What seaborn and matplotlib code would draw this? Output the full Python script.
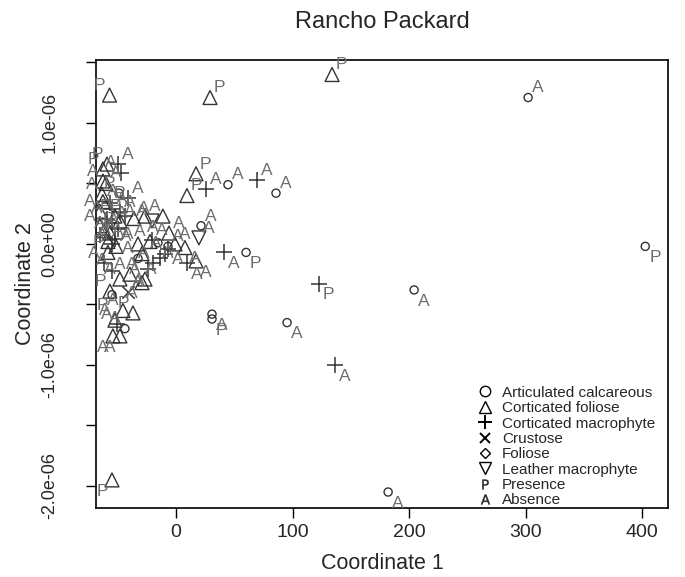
import numpy as np
import pandas as pd
import seaborn as sns
import matplotlib.pyplot as plt
from matplotlib.lines import Line2D

# ordination scores (Coordinate 2 in units of 1e-06)
kind = ['cf', 'cf', 'cf', 'ac', 'ac', 'ac', 'cm', 'cm', 'ac', 'ac',
        'cf', 'ac', 'ac', 'cm', 'ac', 'cm', 'ac', 'ac', 'cf', 'cf',
        'cm', 'ac', 'lm', 'cf', 'cf', 'cm',
        'cf', 'cf', 'cm', 'cm', 'cf', 'cf', 'ac', 'cm', 'cf', 'cf',
        'cm', 'cf', 'cm', 'cm', 'cf', 'cm', 'cf', 'cm', 'cf', 'cm',
        'cf', 'cm', 'cm', 'cf', 'cm', 'cf', 'cm', 'cf', 'cm', 'cf',
        'cm', 'cf', 'cf', 'ac', 'cr', 'cf', 'cf', 'cf', 'ac', 'cf',
        'cf', 'cm',
        'cf', 'cf', 'cf', 'lm', 'cf', 'cf', 'cm', 'ac', 'ac', 'cf',
        'ac', 'cf', 'cm', 'cm', 'cm', 'cm', 'cm', 'cf', 'cf', 'cf', 'cf']
label = ['P', 'P', 'P', 'A', 'P', 'A', 'A', 'P', 'A', 'A',
         'P', 'A', 'P', 'A', 'P', 'A', 'A', 'A', 'P', 'P',
         'A', 'A', 'A', 'A', 'A', 'A',
         'P', 'P', 'A', 'A', 'A', 'A', 'P', 'A', 'A', 'A',
         'P', 'A', 'A', 'A', 'P', 'A', 'A', 'A', 'A', 'P',
         'A', 'A', 'A', 'A', 'P', 'A', 'A', 'A', 'A', 'P',
         'A', 'A', 'P', 'P', 'A', 'A', 'P', 'A', 'A', 'A',
         'A', 'A',
         'A', 'A', 'A', 'A', 'A', 'A', 'A', 'A', 'A', 'A',
         'A', 'A', 'A', 'A', 'A', 'A', 'A', 'A', 'A', 'A', 'A']
side = ['ul', 'ur', 'ur', 'ur', 'lr', 'lr', 'lr', 'lr', 'lr', 'lr',
        'll', 'lr', 'lr', 'lr', 'lr', 'ur', 'ur', 'ur', 'ur', 'ur',
        'ur', 'ur', 'ur', 'lr', 'lr', 'lr',
        'ul', 'ul', 'ul', 'ur', 'ul', 'ur', 'ul', 'ur', 'ul', 'ur',
        'ur', 'ul', 'ur', 'ur', 'ul', 'ul', 'ul', 'ur', 'ur', 'ul',
        'ul', 'ur', 'ul', 'ur', 'ul', 'ur', 'ul', 'ur', 'ul', 'ul',
        'ul', 'ul', 'ul', 'll', 'ur', 'ul', 'ul', 'ul', 'ul', 'll',
        'll', 'ul',
        'ur', 'ur', 'll', 'ul', 'ul', 'ul', 'ur', 'lr', 'ur', 'll',
        'ul', 'ul', 'll', 'ul', 'll', 'ul', 'lr', 'll', 'ul', 'ur', 'ur']
coord1 = [-57.0, 29.2, 133.9, 302.1, 402.6, 204.3, 136.5, 122.7, 95.3, 182.0,
          -54.9, 30.9, 30.9, 41.2, 60.1, 69.5, 44.6, 85.8, 17.2, 9.4,
          25.8, 21.5, 19.7, 7.7, 17.2, 9.4,
          -59.2, -62.7, -47.2, -49.8, -62.7, -60.1, -48.9, -41.2, -63.5, -62.7,
          -56.7, -65.2, -54.9, -48.1, -52.4, -59.2, -65.2, -54.9, -61.8, -49.8,
          -56.7, -65.2, -52.4, -48.1, -43.8, -58.4, -54.9, -51.5, -61.8, -58.4,
          -54.9, -48.1, -56.7, -54.9, -41.2, -45.5, -36.9, -52.4, -43.8, -54.1,
          -48.1, -50.7,
          -36.1, -26.6, -11.2, -20.6, -32.6, -22.3, -20.6, -15.5, -6.9, -29.2,
          -32.6, -39.5, -24.0, -19.7, -13.7, -9.4, -6.9, -29.2, -26.6, -6.0, -0.9]
coord2 = [1.23, 1.21, 1.40, 1.21, -0.02, -0.38, -1.00, -0.33, -0.65, -2.05,
          -1.95, -0.58, -0.62, -0.07, -0.07, 0.53, 0.49, 0.42, 0.58, 0.40,
          0.45, 0.15, 0.05, -0.03, -0.14, -0.16,
          0.66, 0.62, 0.59, 0.66, 0.52, 0.50, 0.42, 0.38, 0.41, 0.35,
          0.34, 0.27, 0.29, 0.26, 0.23, 0.21, 0.15, 0.17, 0.11, 0.12,
          0.09, 0.07, 0.04, 0.19, 0.23, 0.02, 0.00, -0.02, -0.16, -0.07,
          -0.22, -0.29, -0.39, -0.42, -0.40, -0.55, -0.57, -0.63, -0.70, -0.76,
          -0.76, -0.66,
          0.21, 0.23, 0.23, 0.19, 0.00, 0.02, 0.03, 0.01, -0.02, -0.08,
          -0.12, -0.25, -0.21, -0.16, -0.12, -0.08, -0.04, -0.32, -0.29, 0.09, 0.00]

groups = ['Articulated calcareous', 'Corticated foliose', 'Corticated macrophyte',
          'Crustose', 'Foliose', 'Leather macrophyte']
codes = ['ac', 'cf', 'cm', 'cr', 'fo', 'lm']
markers = {'ac': 'o', 'cf': '^', 'cm': '+', 'cr': 'x', 'fo': 'D', 'lm': 'v'}
sizes = {'ac': 34, 'cf': 100, 'cm': 130, 'cr': 80, 'fo': 50, 'lm': 100}

df = pd.DataFrame({'kind': kind, 'label': label, 'side': side,
                   'c1': coord1, 'c2': np.array(coord2) * 1e-6})

sns.set_theme(style='white')
plt.rcParams['font.family'] = ['Liberation Sans', 'DejaVu Sans']

fig = plt.figure(figsize=(6.85, 5.77), dpi=100)
ax = fig.add_axes([0.140, 0.120, 0.835, 0.776])

mk_col = '#333333'
for k in codes:
    sub = df[df['kind'] == k]
    if sub.empty:
        continue
    if markers[k] in ('+', 'x'):
        sns.scatterplot(data=sub, x='c1', y='c2', marker=markers[k], s=sizes[k],
                        color=mk_col, linewidth=1.1, ax=ax, zorder=3)
    else:
        sns.scatterplot(data=sub, x='c1', y='c2', marker=markers[k], s=sizes[k],
                        facecolor='none', edgecolor=mk_col, linewidth=1.0, ax=ax, zorder=3)

# P / A labels, jittered next to each symbol
offs = {'ur': (7, 7), 'lr': (7, -8), 'ul': (-7, 7), 'll': (-7, -8)}
for _, r in df.iterrows():
    ax.annotate(r['label'], (r['c1'], r['c2']), xytext=offs[r['side']],
                textcoords='offset points', ha='center', va='center',
                fontsize=12.5, color='#6e6e6e', zorder=4)

ax.set_xlim(-68.7, 422)
ax.set_ylim(-2.18e-6, 1.52e-6)
ax.set_xticks([0, 100, 200, 300, 400])
ax.set_xticklabels(['0', '100', '200', '300', '400'], fontsize=14)
yt = [-2e-6, -1.5e-6, -1e-6, -0.5e-6, 0, 0.5e-6, 1e-6, 1.5e-6]
ylab = ['-2.0e-06', '', '-1.0e-06', '', '0.0e+00', '', '1.0e-06', '']
ax.set_yticks(yt)
ax.set_yticklabels(ylab, fontsize=13, rotation=90, va='center')
ax.tick_params(axis='both', direction='out', length=7, width=1, color='black',
               bottom=True, left=True)
ax.tick_params(axis='x', pad=5)
ax.tick_params(axis='y', pad=20)
for sp in ax.spines.values():
    sp.set_color('black')
    sp.set_linewidth(1.2)

ax.set_xlabel('Coordinate 1', fontsize=15.5, labelpad=8)
ax.set_ylabel('Coordinate 2', fontsize=15.5, labelpad=4)
fig.text(0.558, 0.962, 'Rancho Packard', ha='center', va='center', fontsize=17)

handles = [Line2D([], [], ls='', marker='o', mfc='none', mec='black', ms=7.5, mew=1),
           Line2D([], [], ls='', marker='^', mfc='none', mec='black', ms=8.5, mew=1),
           Line2D([], [], ls='', marker='+', color='black', ms=9.5, mew=1.4),
           Line2D([], [], ls='', marker='x', color='black', ms=7, mew=1.4),
           Line2D([], [], ls='', marker='D', mfc='none', mec='black', ms=5.5, mew=1),
           Line2D([], [], ls='', marker='v', mfc='none', mec='black', ms=8.5, mew=1),
           Line2D([], [], ls='', marker='$\\mathsf{P}$', color='#222222', ms=7, mew=0.3),
           Line2D([], [], ls='', marker='$\\mathsf{A}$', color='#222222', ms=7, mew=0.3)]
leg = ax.legend(handles, groups + ['Presence', 'Absence'], loc='upper left',
                bbox_to_anchor=(0.688, 0.342), bbox_transform=fig.transFigure,
                frameon=False, fontsize=11, handlelength=1.0, handletextpad=0.6,
                labelspacing=0.09, borderaxespad=0)

fig.savefig('out.png', dpi=100)
